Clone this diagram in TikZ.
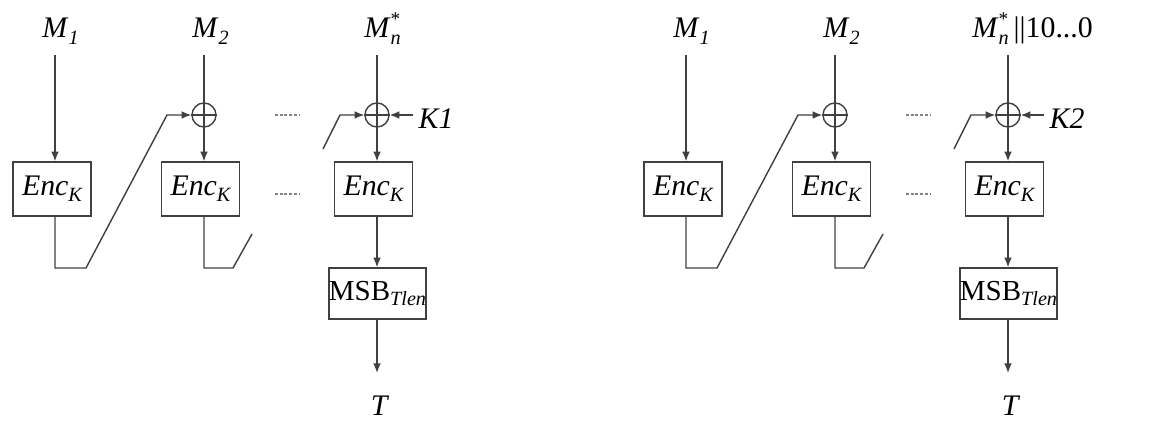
\documentclass[tikz,border=0pt]{standalone}
\usepackage{fontspec}
\setmainfont{Liberation Serif}
\usetikzlibrary{arrows.meta}
\definecolor{ln}{HTML}{404040}
\newcommand\lowr[1]{\raisebox{-0.45ex}{\fontsize{11.5}{11.5}\selectfont\itshape #1}}
\newcommand\Mn{\textit{M}\rlap{\raisebox{0.9ex}{\fontsize{11}{11}\selectfont *}}\lowr{n}}
\newcommand\Enck{\textit{Enc}\lowr{K}}
\newcommand\Msb{MSB\lowr{Tlen}}
\tikzset{
  lab/.style={inner sep=0pt, font=\fontsize{17}{20}\selectfont},
  blk/.style={draw=ln, line width=0.8pt, minimum width=1.56cm, minimum height=1.08cm, inner sep=0pt, font=\fontsize{17}{20}\selectfont},
  msbblk/.style={draw=ln, line width=0.8pt, minimum width=1.9cm, minimum height=1.02cm, inner sep=0pt, font=\fontsize{16.5}{20}\selectfont},
  xorc/.style={circle, draw=ln, line width=0.8pt, minimum size=0.48cm, inner sep=0pt},
  wire/.style={draw=ln, line width=0.8pt},
  arr/.style={wire, -{Latex[length=5.5pt,width=4.4pt]}},
  dots/.style={draw=ln!65, line width=0.6pt, dash pattern=on 1.6pt off 1.1pt},
}
\newcommand\cmacpart[5]{%
\begin{scope}[shift={(#2,0)}]
  % labels
  \node[lab, anchor=base west] (#1m1) at (42,38) {\textit{M}\lowr{1}};
  \node[lab, anchor=base west] (#1m2) at (192,38) {\textit{M}\lowr{2}};
  \node[lab, anchor=base west] (#1m3) at (#5,38) {#3};
  % column tops
  \coordinate (#1c1) at (55,55);
  \coordinate (#1c2) at (204,55);
  \coordinate (#1c3) at (377,55);
  % xor
  \node[xorc] (#1x2) at (204,115) {};
  \node[xorc] (#1x3) at (377,115) {};
  \draw[wire] (#1x2.north) -- (#1x2.south) (#1x2.west) -- (#1x2.east);
  \draw[wire] (#1x3.north) -- (#1x3.south) (#1x3.west) -- (#1x3.east);
  % blocks
  \node[blk] (#1e1) at (52,189) {\Enck};
  \node[blk] (#1e2) at (200.5,189) {\Enck};
  \node[blk] (#1e3) at (373.5,189) {\Enck};
  \node[msbblk] (#1ms) at (377.5,293.5) {\Msb};
  \node[lab, anchor=base] (#1t) at (380,415) {\textit{T}};
  \node[lab, anchor=base west, inner xsep=3pt] (#1k) at (413,129) {\textit{#4}};
  % arrows
  \draw[arr] (#1c1) -- (#1c1 |- #1e1.north);
  \draw[wire] (#1c2) -- (#1x2.north);
  \draw[arr] (#1x2.south) -- (#1x2.south |- #1e2.north);
  \draw[wire] (#1c3) -- (#1x3.north);
  \draw[arr] (#1x3.south) -- (#1x3.south |- #1e3.north);
  \draw[arr] (#1x3.south |- #1e3.south) -- (#1x3.south |- #1ms.north);
  \draw[arr] (#1x3.south |- #1ms.south) -- (377,373);
  \draw[arr] (#1k.west |- #1x3.east) -- (#1x3.east);
  % chaining
  \draw[arr] (#1c1 |- #1e1.south) -- (55,268) -- (86,268) -- (167,115) -- (#1x2.west);
  \draw[wire] (#1c2 |- #1e2.south) -- (204,268) -- (233,268) -- (252,234);
  \draw[arr] (323,149) -- (340,115) -- (#1x3.west);
  % dots
  \draw[dots] (275,115) -- (300,115);
  \draw[dots] (275,194) -- (300,194);
\end{scope}}
\begin{document}
\begin{tikzpicture}[x=0.02cm, y=-0.02cm]
\useasboundingbox (0,0) rectangle (1153,422);
\cmacpart{a}{0}{\Mn}{K1}{364}
\cmacpart{b}{631}{\Mn\,||10...0}{K2}{341}
\end{tikzpicture}
\end{document}
